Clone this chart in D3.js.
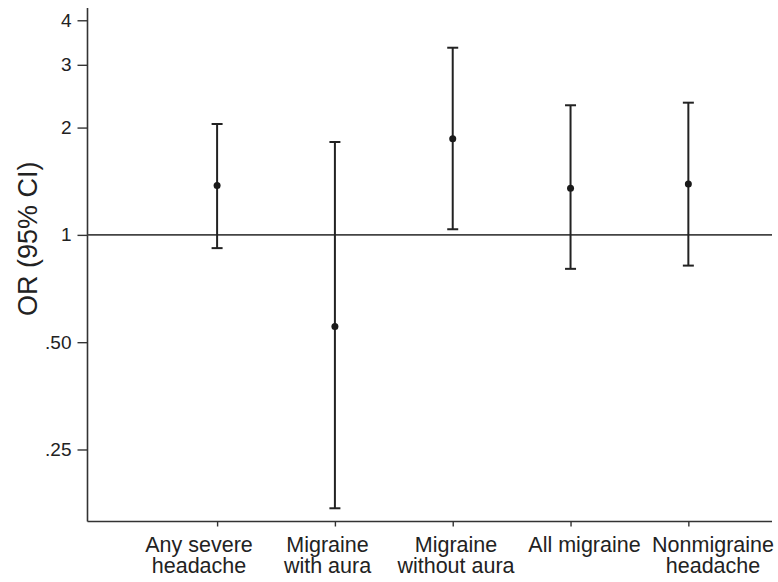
<!DOCTYPE html>
<html lang="en">
<head>
    <meta charset="UTF-8">
    <title>OR (95% CI) by headache type</title>
    <script src="https://d3js.org/d3.v7.min.js"></script>
    <style>
        body { margin: 0; background: #fff; }
        text { font-family: "Liberation Sans", Arial, sans-serif; fill: #222; }
    </style>
</head>
<body>
    <div id="chart"></div>

    <script>
        // Data
        var categories = [["Any severe", "headache"], ["Migraine", "with aura"], ["Migraine", "without aura"], ["All migraine"], ["Nonmigraine", "headache"]];
        var orValues = [1.375, 0.553, 1.862, 1.352, 1.39];
        var lowerCI = [0.918, 0.171, 1.037, 0.803, 0.82];
        var upperCI = [2.047, 1.822, 3.35, 2.31, 2.349];
        var yTickValues = [0.25, 0.5, 1, 2, 3, 4];
        var yTickLabels = [".25", ".50", "1", "2", "3", "4"];

        var width = 778, height = 582;
        var plotLeft = 87.5, plotRight = 772, plotTop = 8, plotBottom = 521.5;

        var svg = d3.select("#chart")
            .append("svg")
            .attr("width", width)
            .attr("height", height);

        var idx = d3.range(categories.length);

        var x = d3.scaleLinear().domain([-0.1, 5.71]).range([plotLeft, plotRight]);
        var y = d3.scaleLog().domain([0.157, 4.33]).range([plotBottom, plotTop]);
        // the category labels sit on a wider spacing than the ticks
        var xLabel = d3.scalePoint().domain(idx).range([199, 713]);

        // y axis
        var yAxis = d3.axisLeft(y)
            .tickValues(yTickValues)
            .tickSize(10)
            .tickPadding(6)
            .tickFormat(function(d, i) { return yTickLabels[i]; });
        var gy = svg.append("g")
            .attr("transform", "translate(" + plotLeft + ",0)")
            .call(yAxis);
        gy.select(".domain").attr("d", "M0," + plotTop + "V" + plotBottom).attr("stroke", "#333").attr("stroke-width", 1.6);
        gy.selectAll(".tick line").attr("stroke", "#333").attr("stroke-width", 1.4);
        gy.selectAll(".tick text").style("font-size", "19px").attr("fill", "#222");

        // x axis
        var xAxis = d3.axisBottom(x)
            .tickValues([1, 2, 3, 4, 5])
            .tickSize(5)
            .tickFormat("");
        var gx = svg.append("g")
            .attr("transform", "translate(0," + plotBottom + ")")
            .call(xAxis);
        gx.select(".domain").attr("d", "M" + plotLeft + ",0H" + plotRight).attr("stroke", "#333").attr("stroke-width", 1.6);
        gx.selectAll(".tick line").attr("stroke", "#333").attr("stroke-width", 1.4);

        // category labels
        var labels = svg.selectAll(".cat")
            .data(categories)
            .enter()
            .append("text")
            .attr("class", "cat")
            .attr("text-anchor", "middle")
            .style("font-size", "21.5px")
            .attr("x", function(d, i) { return xLabel(i); })
            .attr("y", 552);
        labels.selectAll("tspan")
            .data(function(d) { return d; })
            .enter()
            .append("tspan")
            .attr("x", function() { return d3.select(this.parentNode).attr("x"); })
            .attr("dy", function(d, j) { return j === 0 ? 0 : 21; })
            .text(function(d) { return d; });

        // y title
        svg.append("text")
            .attr("transform", "translate(37," + ((plotTop + plotBottom) / 2 - 26) + ") rotate(-90)")
            .attr("text-anchor", "middle")
            .style("font-size", "27px")
            .text("OR (95% CI)");

        // reference line at OR = 1
        svg.append("line")
            .attr("x1", plotLeft).attr("x2", plotRight)
            .attr("y1", y(1)).attr("y2", y(1))
            .attr("stroke", "#444")
            .attr("stroke-width", 1.8);

        // error bars
        svg.selectAll(".bar")
            .data(idx)
            .enter()
            .append("line")
            .attr("class", "bar")
            .attr("x1", function(i) { return x(i + 1); })
            .attr("x2", function(i) { return x(i + 1); })
            .attr("y1", function(i) { return y(lowerCI[i]); })
            .attr("y2", function(i) { return y(upperCI[i]); })
            .attr("stroke", "#222")
            .attr("stroke-width", 2);

        [lowerCI, upperCI].forEach(function(arr) {
            svg.selectAll(null)
                .data(idx)
                .enter()
                .append("line")
                .attr("x1", function(i) { return x(i + 1) - 5.5; })
                .attr("x2", function(i) { return x(i + 1) + 5.5; })
                .attr("y1", function(i) { return y(arr[i]); })
                .attr("y2", function(i) { return y(arr[i]); })
                .attr("stroke", "#222")
                .attr("stroke-width", 2);
        });

        // point estimates
        svg.selectAll(".pt")
            .data(idx)
            .enter()
            .append("circle")
            .attr("class", "pt")
            .attr("cx", function(i) { return x(i + 1); })
            .attr("cy", function(i) { return y(orValues[i]); })
            .attr("r", 3.5)
            .attr("fill", "#1a1a1a");
    </script>
</body>
</html>
